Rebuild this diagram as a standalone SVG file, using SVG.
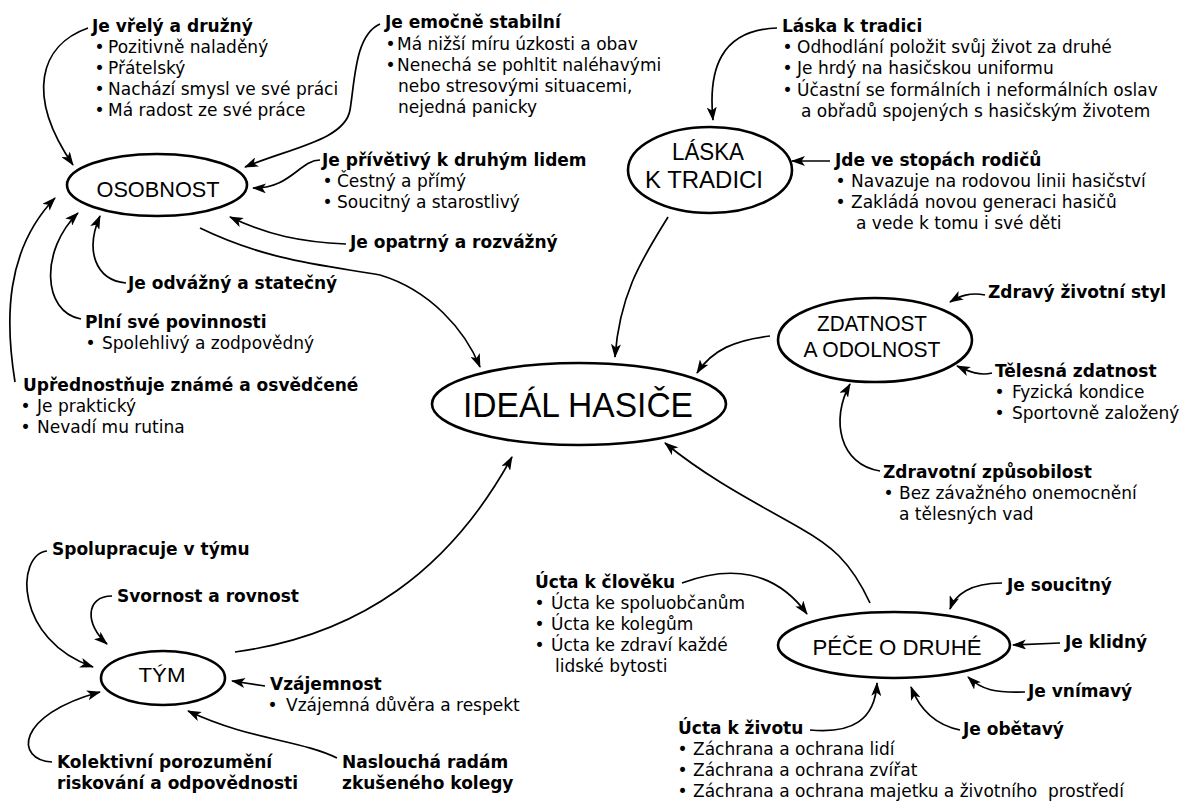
<svg xmlns="http://www.w3.org/2000/svg" width="1182" height="803" viewBox="0 0 1182 803">
<style>
.h{font-family:"DejaVu Sans",Verdana,sans-serif;font-weight:bold;font-size:17px;fill:#000}
.t{font-family:"DejaVu Sans",Verdana,sans-serif;font-size:17px;fill:#000}
.n{font-family:"Liberation Sans",Arial,sans-serif;fill:#000;text-anchor:middle}
.e{fill:#fff;stroke:#000;stroke-width:2.6}
.c{fill:none;stroke:#000;stroke-width:1.7;marker-end:url(#ah)}
</style>
<defs>
<marker id="ah" viewBox="0 0 14 10" refX="13" refY="5" markerWidth="14" markerHeight="10" markerUnits="userSpaceOnUse" orient="auto">
<path d="M0,0 L14,5 L0,10 L3.5,5 z" fill="#000"/>
</marker>
</defs>
<rect width="1182" height="803" fill="#fff"/>

<g id="connectors">
<path class="c" d="M88 28 C40 45 25 95 73 165"/>
<path class="c" d="M380 24 C355 35 355 80 350 110 C345 140 290 148 245 167"/>
<path class="c" d="M320 160 C300 160 290 189 253 188"/>
<path class="c" d="M346 244 C300 242 268 235 230 217"/>
<path class="c" d="M126 283 C95 280 85 250 100 216"/>
<path class="c" d="M81 319 C42 312 40 250 78 213"/>
<path class="c" d="M15 382 C5 320 5 250 55 198"/>
<path class="c" d="M200 228 C270 262 330 266 380 275 C430 290 465 330 480 367"/>
<path class="c" d="M777 28 C720 30 708 70 713 120"/>
<path class="c" d="M830 161 L792 161"/>
<path class="c" d="M668 217 C645 255 620 290 615 357"/>
<path class="c" d="M985 295 C970 292 960 296 950 302"/>
<path class="c" d="M992 373 C980 376 970 372 957 366"/>
<path class="c" d="M880 471 C840 465 830 420 850 384"/>
<path class="c" d="M770 336 C735 340 712 350 697 373"/>
<path class="c" d="M47 551 C15 555 15 640 93 667"/>
<path class="c" d="M112 596 C85 596 85 625 107 644"/>
<path class="c" d="M52 762 C15 760 15 715 100 692"/>
<path class="c" d="M265 686 L232 681"/>
<path class="c" d="M337 758 C300 740 250 740 188 711"/>
<path class="c" d="M235 652 C360 635 450 570 512 457"/>
<path class="c" d="M682 583 C730 565 775 570 807 614"/>
<path class="c" d="M870 603 C850 560 830 545 800 528 C760 505 710 480 665 443"/>
<path class="c" d="M1002 583 C970 583 955 595 950 609"/>
<path class="c" d="M1060 643 L1013 645"/>
<path class="c" d="M1025 692 C995 693 982 690 968 677"/>
<path class="c" d="M960 730 C935 725 920 710 911 687"/>
<path class="c" d="M810 730 C852 734 875 720 877 683"/>
</g>

<g id="ideal">
<ellipse class="e" cx="579" cy="404" rx="147" ry="41"/>
<text class="n" x="578" y="417" font-size="35" textLength="230" lengthAdjust="spacingAndGlyphs">IDEÁL HASIČE</text>
</g>

<g id="osobnost">
<ellipse class="e" cx="157" cy="185" rx="90" ry="31"/>
<text class="n" x="158" y="197" font-size="22" textLength="123" lengthAdjust="spacingAndGlyphs">OSOBNOST</text>
</g>

<g id="laska">
<ellipse class="e" cx="710" cy="170" rx="82" ry="43"/>
<text class="n" x="708" y="160" font-size="24" textLength="72" lengthAdjust="spacingAndGlyphs">LÁSKA</text>
<text class="n" x="704" y="188" font-size="24" textLength="118" lengthAdjust="spacingAndGlyphs">K TRADICI</text>
</g>

<g id="zdatnost">
<ellipse class="e" cx="875" cy="340" rx="97" ry="42"/>
<text class="n" x="872" y="331" font-size="22" textLength="110" lengthAdjust="spacingAndGlyphs">ZDATNOST</text>
<text class="n" x="872" y="357" font-size="22" textLength="137" lengthAdjust="spacingAndGlyphs">A ODOLNOST</text>
</g>

<g id="tym">
<ellipse class="e" cx="163" cy="678" rx="62" ry="27"/>
<text class="n" x="162" y="682" font-size="21" textLength="47" lengthAdjust="spacingAndGlyphs">TÝM</text>
</g>

<g id="pece">
<ellipse class="e" cx="894" cy="645" rx="116" ry="33"/>
<text class="n" x="897" y="655" font-size="22" textLength="169" lengthAdjust="spacingAndGlyphs">PÉČE O DRUHÉ</text>
</g>

<g id="vrely">
<text class="h" x="92" y="32">Je vřelý a družný</text>
<text class="t" x="94.5" y="53">•</text><text class="t" x="108" y="53">Pozitivně naladěný</text>
<text class="t" x="94.5" y="74">•</text><text class="t" x="108" y="74">Přátelský</text>
<text class="t" x="94.5" y="95">•</text><text class="t" x="108" y="95">Nachází smysl ve své práci</text>
<text class="t" x="94.5" y="116">•</text><text class="t" x="108" y="116">Má radost ze své práce</text>
</g>

<g id="emocne">
<text class="h" x="385" y="28">Je emočně stabilní</text>
<text class="t" x="385.5" y="50">•</text><text class="t" x="397" y="50">Má nižší míru úzkosti a obav</text>
<text class="t" x="385.5" y="71">•</text><text class="t" x="397" y="71">Nenechá se pohltit naléhavými</text>
<text class="t" x="398" y="92">nebo stresovými situacemi,</text>
<text class="t" x="398" y="113">nejedná panicky</text>
</g>

<g id="privetivy">
<text class="h" x="322" y="166">Je přívětivý k druhým lidem</text>
<text class="t" x="322.5" y="187">•</text><text class="t" x="337" y="187">Čestný a přímý</text>
<text class="t" x="322.5" y="208">•</text><text class="t" x="337" y="208">Soucitný a starostlivý</text>
</g>

<g id="opatrny">
<text class="h" x="350" y="248">Je opatrný a rozvážný</text>
</g>

<g id="odvazny">
<text class="h" x="128" y="289">Je odvážný a statečný</text>
</g>

<g id="plni">
<text class="h" x="85" y="328">Plní své povinnosti</text>
<text class="t" x="85.5" y="349">•</text><text class="t" x="102" y="349">Spolehlivý a zodpovědný</text>
</g>

<g id="upred">
<text class="h" x="23" y="391">Upřednostňuje známé a osvědčené</text>
<text class="t" x="20.5" y="412">•</text><text class="t" x="37" y="412">Je praktický</text>
<text class="t" x="20.5" y="433">•</text><text class="t" x="37" y="433">Nevadí mu rutina</text>
</g>

<g id="laska-label">
<text class="h" x="782" y="32">Láska k tradici</text>
<text class="t" x="782.5" y="53">•</text><text class="t" x="797" y="53">Odhodlání položit svůj život za druhé</text>
<text class="t" x="782.5" y="74">•</text><text class="t" x="797" y="74">Je hrdý na hasičskou uniformu</text>
<text class="t" x="782.5" y="96">•</text><text class="t" x="797" y="96">Účastní se formálních i neformálních oslav</text>
<text class="t" x="801" y="117">a obřadů spojených s hasičským životem</text>
</g>

<g id="stopy">
<text class="h" x="835" y="166">Jde ve stopách rodičů</text>
<text class="t" x="835.5" y="187">•</text><text class="t" x="851" y="187">Navazuje na rodovou linii hasičství</text>
<text class="t" x="835.5" y="208">•</text><text class="t" x="851" y="208">Zakládá novou generaci hasičů</text>
<text class="t" x="856" y="229">a vede k tomu i své děti</text>
</g>

<g id="zdravy">
<text class="h" x="988" y="298">Zdravý životní styl</text>
</g>

<g id="telesna">
<text class="h" x="995" y="377">Tělesná zdatnost</text>
<text class="t" x="994.5" y="398">•</text><text class="t" x="1012" y="398">Fyzická kondice</text>
<text class="t" x="994.5" y="419">•</text><text class="t" x="1012" y="419">Sportovně založený</text>
</g>

<g id="zpusobilost">
<text class="h" x="883" y="478">Zdravotní způsobilost</text>
<text class="t" x="883.5" y="499">•</text><text class="t" x="899" y="499">Bez závažného onemocnění</text>
<text class="t" x="899" y="520">a tělesných vad</text>
</g>

<g id="spolupracuje">
<text class="h" x="52" y="555">Spolupracuje v týmu</text>
</g>

<g id="svornost">
<text class="h" x="117" y="602">Svornost a rovnost</text>
</g>

<g id="vzajemnost">
<text class="h" x="270" y="690">Vzájemnost</text>
<text class="t" x="267.5" y="711">•</text><text class="t" x="286" y="711">Vzájemná důvěra a respekt</text>
</g>

<g id="kolektivni">
<text class="h" x="57" y="768">Kolektivní porozumění</text>
<text class="h" x="57" y="789">riskování a odpovědnosti</text>
</g>

<g id="naslouchа">
<text class="h" x="342" y="768">Naslouchá radám</text>
<text class="h" x="342" y="789">zkušeného kolegy</text>
</g>

<g id="clovek">
<text class="h" x="535" y="588">Úcta k člověku</text>
<text class="t" x="534.5" y="609">•</text><text class="t" x="551" y="609">Úcta ke spoluobčanům</text>
<text class="t" x="534.5" y="630">•</text><text class="t" x="551" y="630">Úcta ke kolegům</text>
<text class="t" x="534.5" y="651">•</text><text class="t" x="551" y="651">Úcta ke zdraví každé</text>
<text class="t" x="555" y="672">lidské bytosti</text>
</g>

<g id="zivot">
<text class="h" x="678" y="734">Úcta k životu</text>
<text class="t" x="677.5" y="755">•</text><text class="t" x="693" y="755">Záchrana a ochrana lidí</text>
<text class="t" x="677.5" y="776">•</text><text class="t" x="693" y="776">Záchrana a ochrana zvířat</text>
<text class="t" x="677.5" y="797">•</text><text class="t" x="693" y="797" xml:space="preserve">Záchrana a ochrana majetku a životního  prostředí</text>
</g>

<g id="soucitny"><text class="h" x="1007" y="591">Je soucitný</text></g>
<g id="klidny"><text class="h" x="1065" y="648">Je klidný</text></g>
<g id="vnimavy"><text class="h" x="1028" y="697">Je vnímavý</text></g>
<g id="obetavy"><text class="h" x="963" y="735">Je obětavý</text></g>
</svg>
